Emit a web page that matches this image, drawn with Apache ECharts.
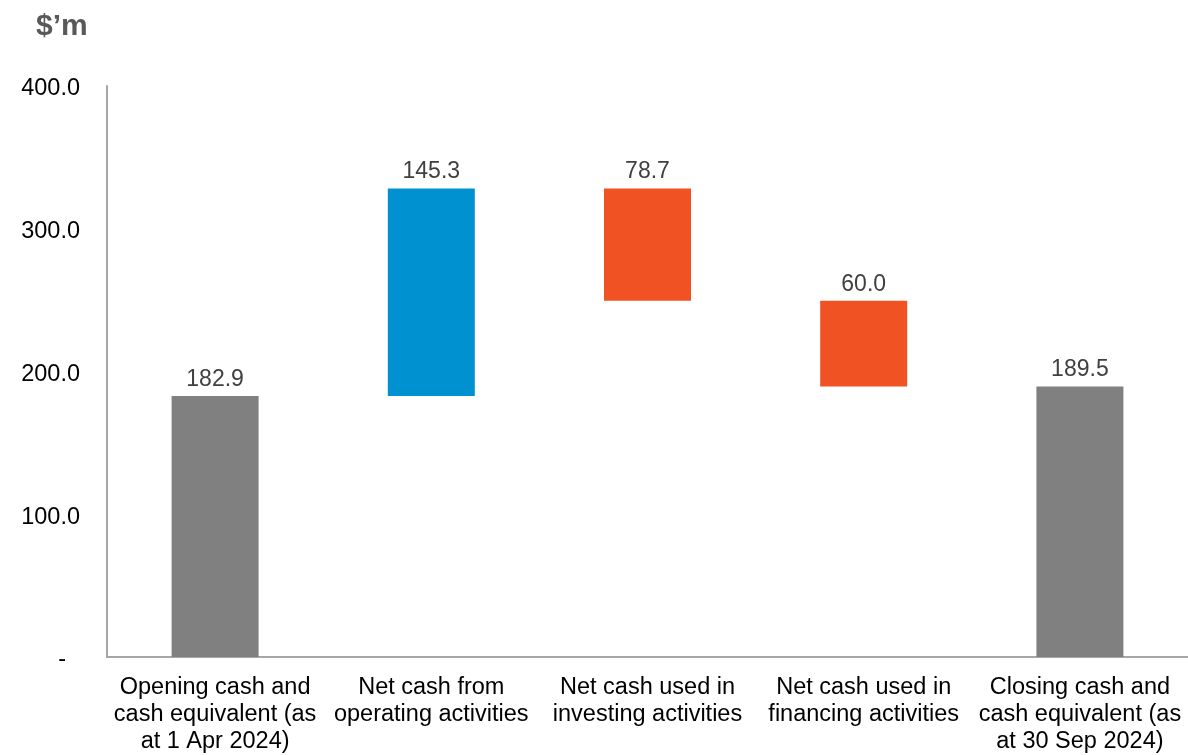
<!DOCTYPE html>
<html>
<head>
<meta charset="utf-8">
<script src="https://cdn.jsdelivr.net/npm/echarts@6/dist/echarts.min.js"></script>
<style>
  html, body { margin: 0; padding: 0; background: #fff; }
  #chart { width: 1188px; height: 755px; }
</style>
</head>
<body>
<div id="chart"></div>
<script>
var categories = [
    'Opening cash and\ncash equivalent (as\nat 1 Apr 2024)',
    'Net cash from\noperating activities',
    'Net cash used in\ninvesting activities',
    'Net cash used in\nfinancing activities',
    'Closing cash and\ncash equivalent (as\nat 30 Sep 2024)'
];
var values = [182.9, 145.3, -78.7, -60.0, 189.5];
var kinds = ['total', 'up', 'down', 'down', 'total'];
var yTicks = [0, 100, 200, 300, 400];

(function() {
    var font = '"Liberation Sans", Arial';
    var colors = { total: '#808080', up: '#0092d0', down: '#f05224' };
    var base = [], shown = [], running = 0;
    for (var i = 0; i < values.length; i++) {
        var v = values[i];
        if (kinds[i] === 'total') {
            base.push(0);
            shown.push(v);
            running = v;
        } else if (v >= 0) {
            base.push(running);
            shown.push(v);
            running += v;
        } else {
            running += v;
            base.push(running);
            shown.push(-v);
        }
    }

    var chart = echarts.init(document.getElementById('chart'), null, { renderer: 'canvas' });
    chart.setOption({
        animation: false,
        grid: { left: 107, right: -3, top: 86, bottom: 97 },
        graphic: [{
            type: 'text', left: 36, top: 12,
            style: { text: '$\u2019m', font: 'bold 30px ' + font, fill: '#595959' }
        }],
        xAxis: {
            type: 'category',
            data: categories,
            axisLine: { lineStyle: { color: '#a6a6a6', width: 2 } },
            axisTick: { show: false },
            axisLabel: {
                color: '#000', fontSize: 23.5, fontFamily: font,
                lineHeight: 27, margin: 17, interval: 0
            }
        },
        yAxis: {
            type: 'value', min: yTicks[0], max: yTicks[yTicks.length - 1], interval: 100,
            axisLine: { show: true, lineStyle: { color: '#a6a6a6', width: 2 } },
            axisTick: { show: false },
            splitLine: { show: false },
            axisLabel: {
                color: '#000', fontSize: 23.5, fontFamily: font, margin: 27,
                padding: [6, 0, 0, 0],
                formatter: function(v) { return v === 0 ? '{d|-}' : v.toFixed(1); },
                rich: { d: { fontSize: 23.5, fontFamily: font, color: '#000', padding: [0, 14, 0, 0] } }
            }
        },
        series: [{
            type: 'bar', stack: 'w', data: base, barWidth: 87,
            itemStyle: { color: 'transparent' },
            silent: true
        }, {
            type: 'bar', stack: 'w', barWidth: 87,
            data: shown.map(function(v, i) {
                return { value: v, itemStyle: { color: colors[kinds[i]] } };
            }),
            label: {
                show: true, position: 'top', distance: 5,
                color: '#404040', fontSize: 23, fontFamily: font,
                formatter: function(p) { return Math.abs(values[p.dataIndex]).toFixed(1); }
            }
        }]
    });
})();
</script>
</body>
</html>
